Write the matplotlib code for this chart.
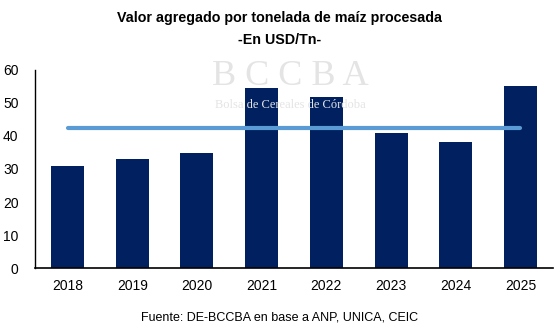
import matplotlib.pyplot as plt

# Datos
anios = ['2018', '2019', '2020', '2021', '2022', '2023', '2024', '2025']
valor = [31.0, 33.1, 34.9, 54.5, 51.8, 40.9, 38.2, 55.1]
promedio = [42.4] * len(anios)

plt.rcParams['font.family'] = ['Liberation Sans', 'DejaVu Sans']

fig = plt.figure(figsize=(5.59, 3.31), dpi=100)
ax = fig.add_axes([0.063, 0.19, 0.926, 0.599])

x = range(len(anios))
ax.bar(x, valor, width=0.51, color='#002060', zorder=2)
ax.plot(x, promedio, color='#5B9BD5', linewidth=3, solid_capstyle='round', zorder=3)

ax.set_xlim(-0.5, len(anios) - 0.5)
ax.set_ylim(0, 60)
ax.set_yticks(range(0, 61, 10))
ax.set_xticks(list(x))
ax.set_xticklabels(anios)
ax.tick_params(length=0, labelsize=10, pad=8)
ax.tick_params(axis='y', pad=12)
for s in ['top', 'right']:
    ax.spines[s].set_visible(False)
ax.spines['left'].set_linewidth(1)
ax.spines['bottom'].set_linewidth(1.2)

# marca de agua
fig.text(0.52, 0.77, 'B C C B A', family='Liberation Serif', fontsize=26,
         color='#e4e4e4', ha='center', va='center', zorder=0)
fig.text(0.52, 0.683, 'Bolsa de Cereales de Córdoba', family='Liberation Serif',
         fontsize=9, color='#e4e4e4', ha='center', va='center', zorder=0)

fig.text(0.5, 0.945, 'Valor agregado por tonelada de maíz procesada', fontsize=10.3,
         fontweight='bold', ha='center', va='center')
fig.text(0.5, 0.878, '-En USD/Tn-', fontsize=10.3, fontweight='bold',
         ha='center', va='center')
fig.text(0.5, 0.04, 'Fuente: DE-BCCBA en base a ANP, UNICA, CEIC', fontsize=9,
         ha='center', va='center')

fig.savefig('out.png', dpi=100)
